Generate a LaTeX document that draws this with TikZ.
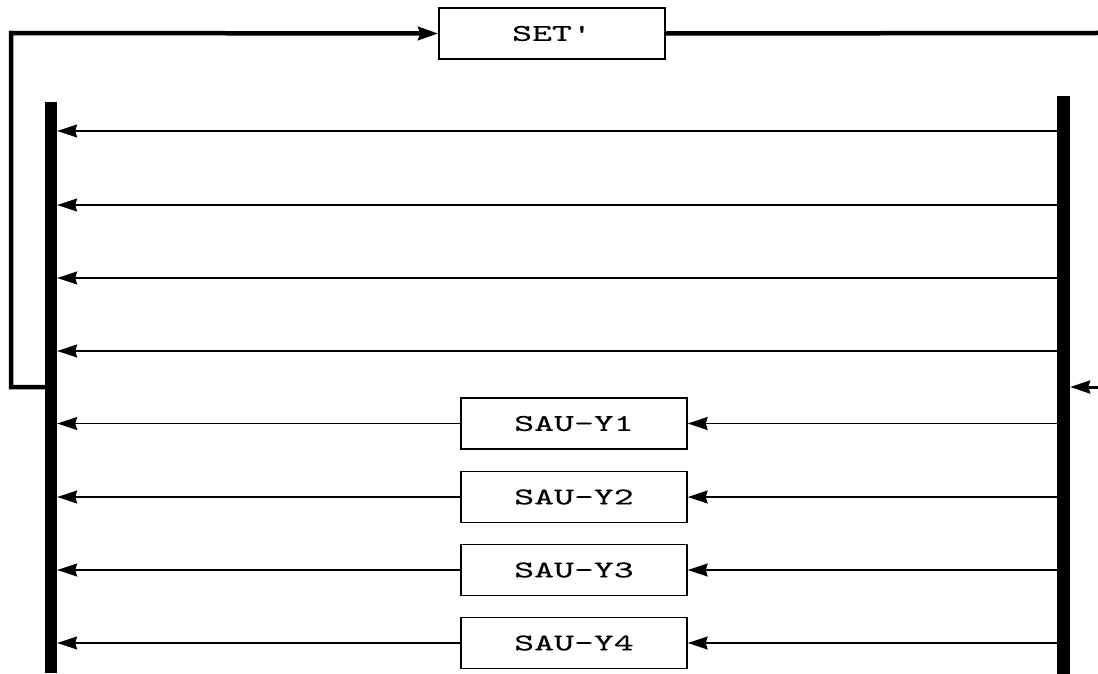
\documentclass[tikz,border=0pt]{standalone}
\usepackage{fontspec}
\newfontfamily\boxfont{lmmono10-regular.otf}[FakeStretch=1.58,FakeBold=0.3]
\usetikzlibrary{arrows.meta}
\usetikzlibrary{positioning}

\begin{document}
\begin{tikzpicture}[x=1pt,y=-1pt,>={Stealth[length=20pt,width=13pt,inset=2pt]},
    thin line/.style={line width=1.3pt},
    loop line/.style={line width=4.5pt},
    box node/.style={draw,line width=1.4pt,minimum width=226pt,minimum height=51pt,inner sep=0pt,font=\boxfont\fontsize{24}{24}\selectfont},
    bar node/.style={fill=black,inner sep=0pt,minimum width=12pt}]
   \useasboundingbox (0,0) rectangle (1098,674);
   % the two bus bars
   \node[bar node,minimum height=571pt] (lbar) at (51,387.5) {};
   \node[bar node,minimum width=13pt,minimum height=578pt] (rbar) at (1063.5,385) {};
   % boxes
   \node[box node] (set) at (552,33.5) {SET'};
   \node[box node] (y1) at (574,423.5) {SAU-Y1};
   \node[box node] (y2) at (574,497) {SAU-Y2};
   \node[box node] (y3) at (574,570) {SAU-Y3};
   \node[box node] (y4) at (574,643) {SAU-Y4};
   % rows
   \coordinate (r1) at (0,131);
   \coordinate (r2) at (0,205);
   \coordinate (r3) at (0,278);
   \coordinate (r4) at (0,351);
   \coordinate (fb) at (0,387);
   \coordinate (corner) at (11,33);
   \coordinate (out) at (1098,33);
   \coordinate (in) at (1098,387);
    \path[->,thin line] (rbar.west |- r1) edge (lbar.east |- r1);
    \path[->,thin line] (rbar.west |- r2) edge (lbar.east |- r2);
    \path[->,thin line] (rbar.west |- r3) edge (lbar.east |- r3);
    \path[->,thin line] (rbar.west |- r4) edge (lbar.east |- r4);
    \path[->,thin line] (rbar.west |- y1) edge (y1.east);
    \path[->,thin line] (y1.west) edge (lbar.east |- y1);
    \path[->,thin line] (rbar.west |- y2) edge (y2.east);
    \path[->,thin line] (y2.west) edge (lbar.east |- y2);
    \path[->,thin line] (rbar.west |- y3) edge (y3.east);
    \path[->,thin line] (y3.west) edge (lbar.east |- y3);
    \path[->,thin line] (rbar.west |- y4) edge (y4.east);
    \path[->,thin line] (y4.west) edge (lbar.east |- y4);
    % feedback loop
    \draw[->,loop line] (lbar.west |- fb) -| (corner) -- (set.west);
    \draw[loop line] (set.east) -- (out);
    \draw[->,line width=3pt] (in) -- (rbar.east |- in);
\end{tikzpicture}
\end{document}
